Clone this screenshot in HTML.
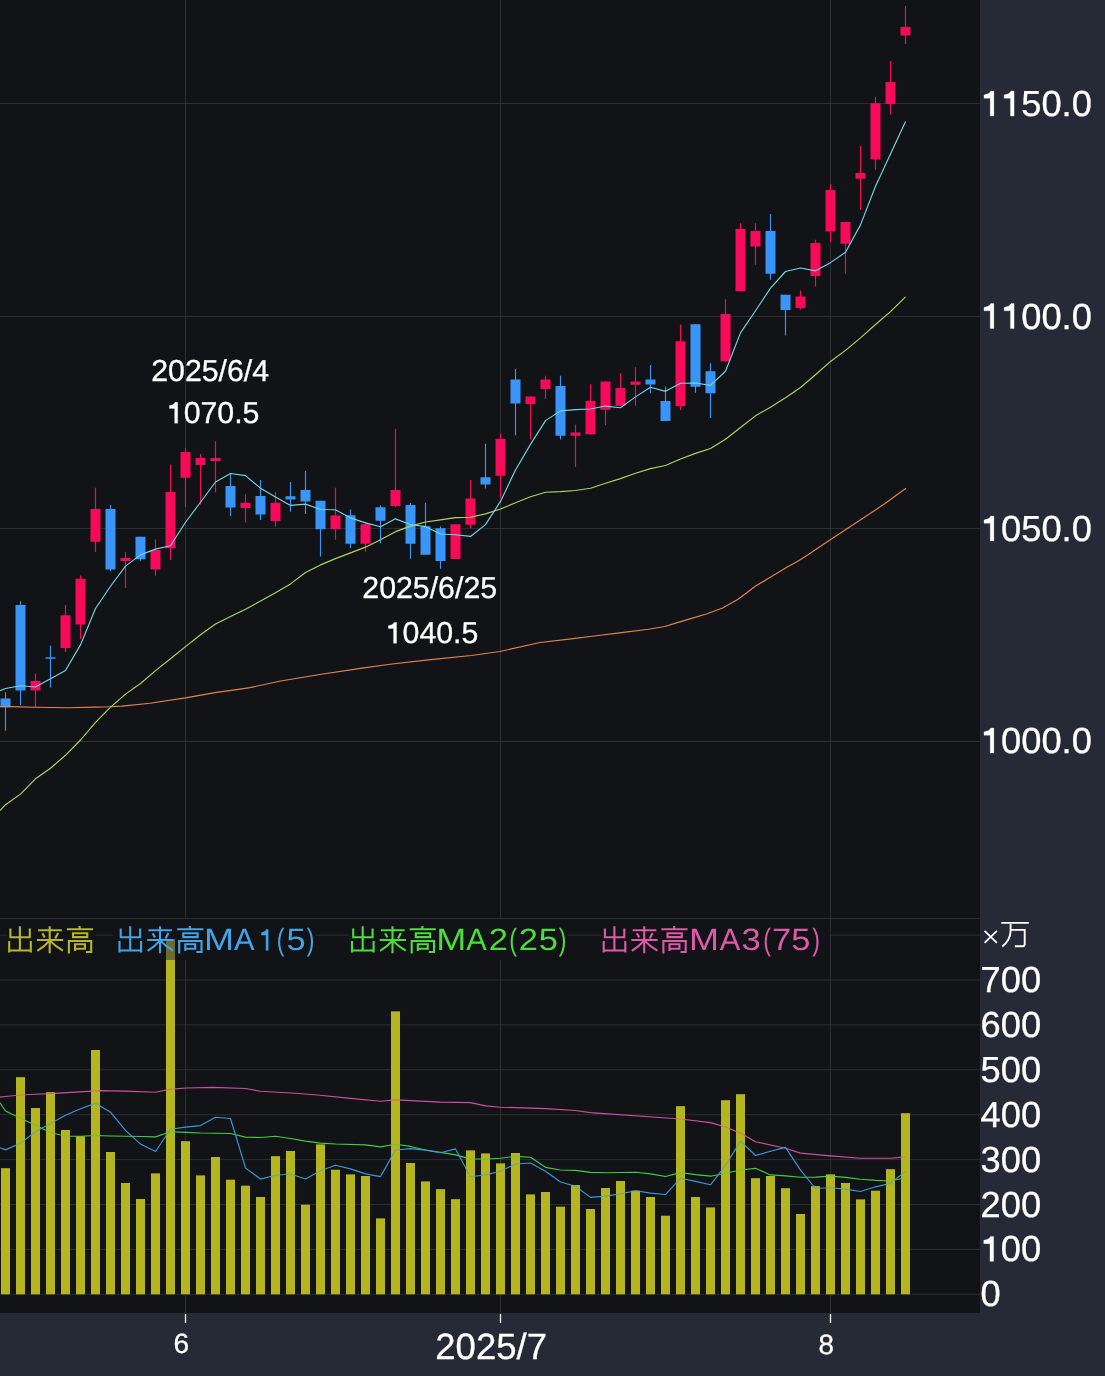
<!DOCTYPE html>
<html><head><meta charset="utf-8"><style>
html,body{margin:0;padding:0;background:#262a36;}
body{width:1105px;height:1376px;overflow:hidden;font-family:"Liberation Sans", sans-serif;}
svg{display:block;will-change:transform;}
text{text-rendering:geometricPrecision;}
</style></head><body>
<svg width="1105" height="1376" viewBox="0 0 1105 1376">
<rect x="0" y="0" width="1105" height="1376" fill="#262a36"/>
<rect x="0" y="0" width="980" height="1313" fill="#121317"/>
<path d="M0 103.5H980M0 316.5H980M0 528.5H980M0 741.5H980M0 918.5H980M0 1294.3H980M0 1249.4H980M0 1204.5H980M0 1159.6H980M0 1114.7H980M0 1069.8H980M0 1024.9H980M0 980H980M0 935.1H980M185.5 0V1313M500.5 0V1313M830.5 0V1313" stroke="#2c2e34" stroke-width="1" fill="none"/>
<rect x="7.3" y="919.2" width="88.1" height="40.5" fill="#121317"/>
<rect x="112.5" y="919.2" width="203" height="40.5" fill="#121317"/>
<rect x="348.7" y="919.2" width="218.8" height="40.5" fill="#121317"/>
<rect x="601.5" y="919.2" width="228" height="40.5" fill="#121317"/>
<rect x="166" y="939" width="9" height="20.7" fill="#6c6b2a"/>
<path d="M1 1168.2h9V1294.3h-9ZM16 1077.2h9V1294.3h-9ZM31 1108h9V1294.3h-9ZM46 1092.3h9V1294.3h-9ZM61 1130.1h9V1294.3h-9ZM76 1136.2h9V1294.3h-9ZM91 1050.1h9V1294.3h-9ZM106 1152h9V1294.3h-9ZM121 1183.1h9V1294.3h-9ZM136 1198.9h9V1294.3h-9ZM151 1173.4h9V1294.3h-9ZM166 959.7h9V1294.3h-9ZM181 1141.2h9V1294.3h-9ZM196 1175.6h9V1294.3h-9ZM211 1157.1h9V1294.3h-9ZM226 1179.8h9V1294.3h-9ZM241 1185.8h9V1294.3h-9ZM256 1197.1h9V1294.3h-9ZM271 1156.2h9V1294.3h-9ZM286 1151.1h9V1294.3h-9ZM301 1204.7h9V1294.3h-9ZM316 1144.4h9V1294.3h-9ZM331 1169.8h9V1294.3h-9ZM346 1174.4h9V1294.3h-9ZM361 1176h9V1294.3h-9ZM376 1218.5h9V1294.3h-9ZM391 1011.4h9V1294.3h-9ZM406 1162.9h9V1294.3h-9ZM421 1181.6h9V1294.3h-9ZM436 1189.3h9V1294.3h-9ZM451 1199.3h9V1294.3h-9ZM466 1150.6h9V1294.3h-9ZM481 1153.5h9V1294.3h-9ZM496 1163.5h9V1294.3h-9ZM511 1153.1h9V1294.3h-9ZM526 1194.4h9V1294.3h-9ZM541 1192h9V1294.3h-9ZM556 1206.7h9V1294.3h-9ZM571 1184.9h9V1294.3h-9ZM586 1208.9h9V1294.3h-9ZM601 1188h9V1294.3h-9ZM616 1181.1h9V1294.3h-9ZM631 1190.7h9V1294.3h-9ZM646 1197.1h9V1294.3h-9ZM661 1215.8h9V1294.3h-9ZM676 1106.3h9V1294.3h-9ZM691 1197.1h9V1294.3h-9ZM706 1207.6h9V1294.3h-9ZM721 1100.3h9V1294.3h-9ZM736 1094.2h9V1294.3h-9ZM751 1178.2h9V1294.3h-9ZM766 1175.9h9V1294.3h-9ZM781 1188.2h9V1294.3h-9ZM796 1213.9h9V1294.3h-9ZM811 1186.3h9V1294.3h-9ZM826 1174.4h9V1294.3h-9ZM841 1183.1h9V1294.3h-9ZM856 1199.6h9V1294.3h-9ZM871 1190.7h9V1294.3h-9ZM886 1169.2h9V1294.3h-9ZM901 1113.2h9V1294.3h-9Z" fill="#b5b51f"/>
<path d="M0 1097.2 L5.5 1096.5 L20.5 1095 L35.5 1094.3 L50.5 1093.6 L100 1090.6 L126 1091.1 L155.4 1092.2 L170.6 1089.1 L186.9 1088 L213 1087.4 L245.5 1088.5 L260.7 1091.3 L295.5 1093.2 L317.2 1095 L350.5 1098.4 L380.5 1101.2 L395.5 1099.9 L440.5 1102.1 L470.5 1102.6 L485.5 1105.9 L500.5 1107.2 L545.5 1108.6 L575.5 1110.5 L590.5 1112.6 L680.5 1119 L710.5 1122.6 L725.5 1127 L740.5 1133.1 L755.5 1141.7 L785.5 1148.3 L800.5 1153.1 L830.5 1155.9 L860.5 1158.2 L890.5 1158.2 L905.5 1156.9" stroke="#cf4f9a" stroke-width="1.15" fill="none" stroke-linejoin="round" opacity="1"/>
<path d="M0 1102.7 L5.5 1111 L20.5 1118.3 L35.5 1125.2 L50.5 1132.5 L65.5 1136.2 L80.5 1136.2 L95.5 1135.5 L110.5 1136 L125.5 1136.2 L140.5 1136.5 L155.5 1136.9 L170.5 1131.7 L185.5 1132.4 L200.5 1133 L215.5 1133.2 L230.5 1133.5 L245.5 1137.1 L260.5 1137.5 L275.5 1136.2 L290.5 1138.5 L305.5 1141.1 L320.5 1143.1 L335.5 1144 L365.5 1144.87 L380.5 1146.88 L395.5 1144.25 L410.5 1146.44 L425.5 1150.02 L440.5 1152.38 L455.5 1154.91 L470.5 1158.93 L485.5 1158.99 L500.5 1158.2 L515.5 1156.37 L530.5 1157.21 L545.5 1167.33 L560.5 1169.95 L575.5 1170.32 L590.5 1172.4 L605.5 1172.72 L620.5 1172.54 L635.5 1172.28 L650.5 1173.92 L665.5 1176.5 L680.5 1172.57 L695.5 1174.68 L710.5 1176.19 L725.5 1173.22 L740.5 1169.95 L755.5 1168.34 L770.5 1174.92 L785.5 1175.93 L800.5 1177.22 L815.5 1177.1 L830.5 1176.11 L845.5 1177.41 L860.5 1179.25 L875.5 1180.34 L890.5 1180.98 L905.5 1177.74" stroke="#3fcf3f" stroke-width="1.15" fill="none" stroke-linejoin="round" opacity="1"/>
<path d="M0 1147.7 L5.5 1149.9 L20.5 1143.3 L35.5 1131.7 L65.5 1115.16 L80.5 1108.76 L95.5 1103.34 L110.5 1112.14 L125.5 1130.3 L140.5 1144.06 L155.5 1151.5 L170.5 1129.28 L185.5 1127.12 L200.5 1125.62 L215.5 1117.26 L230.5 1118.54 L245.5 1167.9 L260.5 1179.08 L275.5 1175.2 L290.5 1174 L305.5 1178.98 L320.5 1170.7 L335.5 1165.24 L350.5 1168.88 L365.5 1173.86 L380.5 1176.62 L395.5 1150.02 L410.5 1148.64 L425.5 1150.08 L440.5 1152.74 L455.5 1148.9 L470.5 1176.74 L485.5 1174.86 L500.5 1171.24 L515.5 1164 L530.5 1163.02 L545.5 1171.3 L560.5 1181.94 L575.5 1186.22 L590.5 1197.38 L605.5 1196.1 L620.5 1193.92 L635.5 1190.72 L650.5 1193.16 L665.5 1194.54 L680.5 1178.2 L695.5 1181.4 L710.5 1184.78 L725.5 1165.42 L740.5 1141.1 L755.5 1155.48 L770.5 1151.24 L785.5 1147.36 L800.5 1170.08 L815.5 1188.5 L830.5 1187.74 L845.5 1189.18 L860.5 1191.46 L875.5 1186.82 L890.5 1183.4 L905.5 1171.16" stroke="#3b97dc" stroke-width="1.15" fill="none" stroke-linejoin="round" opacity="1"/>
<path d="M1 1168.2h9V1294.3h-9ZM16 1077.2h9V1294.3h-9ZM31 1108h9V1294.3h-9ZM46 1092.3h9V1294.3h-9ZM61 1130.1h9V1294.3h-9ZM76 1136.2h9V1294.3h-9ZM91 1050.1h9V1294.3h-9ZM106 1152h9V1294.3h-9ZM121 1183.1h9V1294.3h-9ZM136 1198.9h9V1294.3h-9ZM151 1173.4h9V1294.3h-9ZM166 959.7h9V1294.3h-9ZM181 1141.2h9V1294.3h-9ZM196 1175.6h9V1294.3h-9ZM211 1157.1h9V1294.3h-9ZM226 1179.8h9V1294.3h-9ZM241 1185.8h9V1294.3h-9ZM256 1197.1h9V1294.3h-9ZM271 1156.2h9V1294.3h-9ZM286 1151.1h9V1294.3h-9ZM301 1204.7h9V1294.3h-9ZM316 1144.4h9V1294.3h-9ZM331 1169.8h9V1294.3h-9ZM346 1174.4h9V1294.3h-9ZM361 1176h9V1294.3h-9ZM376 1218.5h9V1294.3h-9ZM391 1011.4h9V1294.3h-9ZM406 1162.9h9V1294.3h-9ZM421 1181.6h9V1294.3h-9ZM436 1189.3h9V1294.3h-9ZM451 1199.3h9V1294.3h-9ZM466 1150.6h9V1294.3h-9ZM481 1153.5h9V1294.3h-9ZM496 1163.5h9V1294.3h-9ZM511 1153.1h9V1294.3h-9ZM526 1194.4h9V1294.3h-9ZM541 1192h9V1294.3h-9ZM556 1206.7h9V1294.3h-9ZM571 1184.9h9V1294.3h-9ZM586 1208.9h9V1294.3h-9ZM601 1188h9V1294.3h-9ZM616 1181.1h9V1294.3h-9ZM631 1190.7h9V1294.3h-9ZM646 1197.1h9V1294.3h-9ZM661 1215.8h9V1294.3h-9ZM676 1106.3h9V1294.3h-9ZM691 1197.1h9V1294.3h-9ZM706 1207.6h9V1294.3h-9ZM721 1100.3h9V1294.3h-9ZM736 1094.2h9V1294.3h-9ZM751 1178.2h9V1294.3h-9ZM766 1175.9h9V1294.3h-9ZM781 1188.2h9V1294.3h-9ZM796 1213.9h9V1294.3h-9ZM811 1186.3h9V1294.3h-9ZM826 1174.4h9V1294.3h-9ZM841 1183.1h9V1294.3h-9ZM856 1199.6h9V1294.3h-9ZM871 1190.7h9V1294.3h-9ZM886 1169.2h9V1294.3h-9ZM901 1113.2h9V1294.3h-9Z" fill="#b5b51f" fill-opacity="0.45"/>
<path d="M35.5 673.4V707.2M65.5 605.1V651.9M80.5 575.4V639.2M95.5 487.8V552M125.5 552V588M155.5 539.5V575.7M170.5 464.8V560.1M185.5 448.1V507.2M200.5 454V504.5M215.5 441.2V492.3M245.5 494.3V522.5M275.5 492V526.6M335.5 487.8V539.8M365.5 522V551.7M395.5 428.8V506.9M455.5 524.2V558.9M470.5 480V528.2M500.5 433.6V498M530.5 396.4V439.6M545.5 375.8V399.1M575.5 424.4V467M590.5 384.2V434.8M605.5 381.5V424.9M620.5 373.3V405.7M635.5 367.2V405.8M680.5 324.6V410.1M725.5 299.3V362M740.5 223.2V291.3M755.5 223.2V264.8M800.5 290.6V309.6M815.5 239.7V286.6M830.5 184.3V241.8M845.5 222.1V273.7M860.5 146V209.9M875.5 97V169.7M890.5 61V114.8M905.5 6.1V43.9" stroke="#f70a5a" stroke-width="1.15" fill="none"/>
<path d="M30.5 681h10v9.6h-10ZM60.5 615.2h10v32.8h-10ZM75.5 578.7h10v45.8h-10ZM90.5 509h10v32.8h-10ZM120.5 558.1h10v2.9h-10ZM150.5 550h10v19.6h-10ZM165.5 492h10v56.3h-10ZM180.5 452h10v25.7h-10ZM195.5 458h10v7.1h-10ZM210.5 458h10v3h-10ZM240.5 502.7h10v5.2h-10ZM270.5 502.7h10v18.3h-10ZM330.5 515.6h10v13.6h-10ZM360.5 524.2h10v19.6h-10ZM390.5 489.9h10v16h-10ZM450.5 524.2h10v34.7h-10ZM465.5 498.5h10v26.3h-10ZM495.5 439h10v36.8h-10ZM525.5 396.4h10v7.5h-10ZM540.5 379.6h10v9.4h-10ZM570.5 432.5h10v3.3h-10ZM585.5 400.9h10v33.3h-10ZM600.5 381.5h10v28.2h-10ZM615.5 388h10v17.7h-10ZM630.5 381.5h10v3.3h-10ZM675.5 341.3h10v64.8h-10ZM720.5 314h10v47.3h-10ZM735.5 228.9h10v62.4h-10ZM750.5 230.9h10v15.6h-10ZM795.5 296.5h10v11.4h-10ZM810.5 243.1h10v33h-10ZM825.5 189.9h10v41.7h-10ZM840.5 222.1h10v21.7h-10ZM855.5 172.9h10v5.8h-10ZM870.5 103.2h10v56.2h-10ZM885.5 82.1h10v21.8h-10ZM900.5 26.9h10v8.7h-10Z" fill="#f70a5a"/>
<path d="M5.5 692.2V730.8M20.5 601.2V705M50.5 645.7V687.6M110.5 505V571M140.5 536.8V560.8M230.5 474V516M260.5 480V520.1M290.5 482.1V511.7M305.5 471V514M320.5 500.8V556.5M350.5 509.5V547.9M380.5 505.2V543.5M410.5 503.1V558.7M425.5 502.8V554.8M440.5 526.6V568.7M485.5 443.8V488.5M515.5 369V435.2M560.5 375.8V439.6M650.5 364.9V393.2M665.5 386.4V421M695.5 324.2V392.8M710.5 363.3V417.9M770.5 213.9V279.8M785.5 294.7V335.4" stroke="#3a95f8" stroke-width="1.15" fill="none"/>
<path d="M0.5 698.4h10v8.8h-10ZM15.5 604.9h10v85.7h-10ZM45.5 657.35h10v1.5h-10ZM105.5 509.1h10v60.4h-10ZM135.5 536.8h10v22.4h-10ZM225.5 485.9h10v21.7h-10ZM255.5 496.1h10v18.3h-10ZM285.5 496.3h10v3.2h-10ZM300.5 490h10v11.5h-10ZM315.5 500.8h10v28.4h-10ZM345.5 515.3h10v28.5h-10ZM375.5 507.3h10v13.4h-10ZM405.5 505.1h10v38.7h-10ZM420.5 526.2h10v28.6h-10ZM435.5 528.2h10v32.7h-10ZM480.5 477.3h10v7.2h-10ZM510.5 379.6h10v24h-10ZM555.5 386h10v49.8h-10ZM645.5 379.6h10v5h-10ZM660.5 401h10v20h-10ZM690.5 324.2h10v62.6h-10ZM705.5 371.2h10v22h-10ZM765.5 230.9h10v42.8h-10ZM780.5 294.7h10v15.3h-10Z" fill="#3a95f8"/>
<path d="M0 706.6 L10.2 706.6 L35.3 707.2 L67.9 707.8 L95 707.1 L110 706.7 L122 706.1 L150 703.3 L185.5 697.9 L215 692.6 L240 689.1 L250 687.6 L280.7 681 L321.4 674.2 L362.2 668.1 L390 664.2 L430.7 659.6 L471.4 655.5 L500 651.5 L540 642.5 L567.1 639.4 L594.3 636 L621.4 632.6 L648.6 629.2 L664.9 626.5 L675.7 623.1 L690 618.9 L706.3 614 L722.6 608 L738.9 598.8 L755.2 586.3 L771.5 576.5 L787.7 566.7 L798.6 560.7 L807.6 555 L830.6 539.6 L847.8 528.2 L865.2 516.8 L884.7 503.8 L905.9 488.2" stroke="#e0844e" stroke-width="1.15" fill="none" stroke-linejoin="round" opacity="1"/>
<path d="M0 810.6 L5.5 804.7 L20.5 794.1 L35.5 778.8 L50.5 768.2 L65.5 755.3 L80.5 740 L95.5 722.4 L110.5 707.1 L125.5 694.1 L140.5 683.5 L155.5 670.6 L170.5 658.8 L185.5 646.6 L200.5 634.8 L215.5 624 L230.5 616.5 L245.5 609.2 L260.5 601.1 L275.5 592.8 L290.5 583.9 L305.5 572.5 L320.5 564.9 L335.5 558.6 L365.5 547.14 L380.5 539.68 L395.5 531.65 L410.5 526.16 L425.5 522 L440.5 519.83 L455.5 517.65 L470.5 517.23 L485.5 513.83 L500.5 509.07 L515.5 502.84 L530.5 496.7 L545.5 492.2 L560.5 491.56 L575.5 490.54 L590.5 488.25 L605.5 483.21 L620.5 478.62 L635.5 473.3 L650.5 468.58 L665.5 465.44 L680.5 459.03 L695.5 453.34 L710.5 448.44 L725.5 439.25 L740.5 427.44 L755.5 415.84 L770.5 407.2 L785.5 397.84 L800.5 387.51 L815.5 374.8 L830.5 361.43 L845.5 350.37 L860.5 337.91 L875.5 324.48 L890.5 311.62 L905.5 296.84" stroke="#acd660" stroke-width="1.15" fill="none" stroke-linejoin="round" opacity="1"/>
<path d="M0 690.6 L5.5 688.5 L20.5 685.8 L35.5 687 L65.5 670.56 L80.5 644.86 L95.5 608.54 L110.5 586.24 L125.5 566.1 L140.5 554.9 L155.5 549.16 L170.5 545.76 L185.5 522.26 L200.5 502.24 L215.5 482 L230.5 473.52 L245.5 475.66 L260.5 488.14 L275.5 497.08 L290.5 505.38 L305.5 504.16 L320.5 509.46 L335.5 509.7 L350.5 517.92 L365.5 522.86 L380.5 526.7 L395.5 518.84 L410.5 524.48 L425.5 526.68 L440.5 534.02 L455.5 534.72 L470.5 536.44 L485.5 524.58 L500.5 501.42 L515.5 469.96 L530.5 444.4 L545.5 420.62 L560.5 410.88 L575.5 409.58 L590.5 409.04 L605.5 406.06 L620.5 407.74 L635.5 396.88 L650.5 387.3 L665.5 391.32 L680.5 383.28 L695.5 383.04 L710.5 385.38 L725.5 371.26 L740.5 332.84 L755.5 310.76 L770.5 288.14 L785.5 271.5 L800.5 268 L815.5 270.84 L830.5 262.64 L845.5 252.32 L860.5 224.9 L875.5 186.24 L890.5 154.04 L905.5 121.44" stroke="#72d5e2" stroke-width="1.15" fill="none" stroke-linejoin="round" opacity="1"/>
<path transform="translate(8.1 926)" d="M2.3 2.6V11.2H21.7V2.6M11.8 0.2V25.5M1.1 15V26.6M22.7 15V26.6M1.1 24.5H22.7M30 4.3H53.7M34.2 7.3L36.6 11.4M50 6.9L47.1 12.4M28.8 14H55.1M41.6 0.3V27.2M41.2 14.9Q36.5 20.6 29.2 24.9M42.1 14.9Q47.5 20.6 54.8 24.6M71.5 0V2.5M58.8 3.3H84.9M64.9 7.2H79.2V11.1H64.9ZM60.8 27.6V15H83.1V26H77.9M66.9 25V18.2H76.8V22.8H66.9" stroke="#b7b52c" stroke-width="2.1" fill="none"/>
<path transform="translate(118.4 926)" d="M2.3 2.6V11.2H21.7V2.6M11.8 0.2V25.5M1.1 15V26.6M22.7 15V26.6M1.1 24.5H22.7M30 4.3H53.7M34.2 7.3L36.6 11.4M50 6.9L47.1 12.4M28.8 14H55.1M41.6 0.3V27.2M41.2 14.9Q36.5 20.6 29.2 24.9M42.1 14.9Q47.5 20.6 54.8 24.6M71.5 0V2.5M58.8 3.3H84.9M64.9 7.2H79.2V11.1H64.9ZM60.8 27.6V15H83.1V26H77.9M66.9 25V18.2H76.8V22.8H66.9" stroke="#44a3e6" stroke-width="2.1" fill="none"/>
<g fill="#44a3e6"><text transform="translate(203.94 950.4) scale(1.17 1)" x="0" y="0" font-family='"Liberation Sans", sans-serif' font-size="30.8">M</text><text transform="translate(233.94 950.4) scale(1.0 1)" x="0" y="0" font-family='"Liberation Sans", sans-serif' font-size="30.8">A</text><path transform="translate(259.02 950.4) scale(0.01278 -0.01504)" d="M735 0V1409H562Q505 1292 405 1250Q300 1212 178 1190V1000H530V0Z"/><text transform="translate(276.77 950.4) scale(0.75 1)" x="0" y="0" font-family='"Liberation Sans", sans-serif' font-size="30.8">(</text><text transform="translate(286.62 950.4) scale(1.12 1)" x="0" y="0" font-family='"Liberation Sans", sans-serif' font-size="30.8">5</text><text transform="translate(306.86 950.4) scale(0.75 1)" x="0" y="0" font-family='"Liberation Sans", sans-serif' font-size="30.8">)</text></g>
<path transform="translate(350.9 926)" d="M2.3 2.6V11.2H21.7V2.6M11.8 0.2V25.5M1.1 15V26.6M22.7 15V26.6M1.1 24.5H22.7M30 4.3H53.7M34.2 7.3L36.6 11.4M50 6.9L47.1 12.4M28.8 14H55.1M41.6 0.3V27.2M41.2 14.9Q36.5 20.6 29.2 24.9M42.1 14.9Q47.5 20.6 54.8 24.6M71.5 0V2.5M58.8 3.3H84.9M64.9 7.2H79.2V11.1H64.9ZM60.8 27.6V15H83.1V26H77.9M66.9 25V18.2H76.8V22.8H66.9" stroke="#4ddc3e" stroke-width="2.1" fill="none"/>
<g fill="#4ddc3e"><text transform="translate(436.14 950.4) scale(1.17 1)" x="0" y="0" font-family='"Liberation Sans", sans-serif' font-size="30.8">M</text><text transform="translate(466.14 950.4) scale(1.0 1)" x="0" y="0" font-family='"Liberation Sans", sans-serif' font-size="30.8">A</text><text transform="translate(488.87 950.4) scale(1.12 1)" x="0" y="0" font-family='"Liberation Sans", sans-serif' font-size="30.8">2</text><text transform="translate(509.27 950.4) scale(0.75 1)" x="0" y="0" font-family='"Liberation Sans", sans-serif' font-size="30.8">(</text><text transform="translate(518.77 950.4) scale(1.12 1)" x="0" y="0" font-family='"Liberation Sans", sans-serif' font-size="30.8">2</text><text transform="translate(538.72 950.4) scale(1.12 1)" x="0" y="0" font-family='"Liberation Sans", sans-serif' font-size="30.8">5</text><text transform="translate(558.86 950.4) scale(0.75 1)" x="0" y="0" font-family='"Liberation Sans", sans-serif' font-size="30.8">)</text></g>
<path transform="translate(602.6 926)" d="M2.3 2.6V11.2H21.7V2.6M11.8 0.2V25.5M1.1 15V26.6M22.7 15V26.6M1.1 24.5H22.7M30 4.3H53.7M34.2 7.3L36.6 11.4M50 6.9L47.1 12.4M28.8 14H55.1M41.6 0.3V27.2M41.2 14.9Q36.5 20.6 29.2 24.9M42.1 14.9Q47.5 20.6 54.8 24.6M71.5 0V2.5M58.8 3.3H84.9M64.9 7.2H79.2V11.1H64.9ZM60.8 27.6V15H83.1V26H77.9M66.9 25V18.2H76.8V22.8H66.9" stroke="#dc5aa8" stroke-width="2.1" fill="none"/>
<g fill="#dc5aa8"><text transform="translate(688.94 950.4) scale(1.17 1)" x="0" y="0" font-family='"Liberation Sans", sans-serif' font-size="30.8">M</text><text transform="translate(719.74 950.4) scale(1.0 1)" x="0" y="0" font-family='"Liberation Sans", sans-serif' font-size="30.8">A</text><text transform="translate(741.59 950.4) scale(1.12 1)" x="0" y="0" font-family='"Liberation Sans", sans-serif' font-size="30.8">3</text><text transform="translate(763.37 950.4) scale(0.75 1)" x="0" y="0" font-family='"Liberation Sans", sans-serif' font-size="30.8">(</text><text transform="translate(771.93 950.4) scale(1.12 1)" x="0" y="0" font-family='"Liberation Sans", sans-serif' font-size="30.8">7</text><text transform="translate(791.32 950.4) scale(1.12 1)" x="0" y="0" font-family='"Liberation Sans", sans-serif' font-size="30.8">5</text><text transform="translate(812.16 950.4) scale(0.75 1)" x="0" y="0" font-family='"Liberation Sans", sans-serif' font-size="30.8">)</text></g>
<g transform="translate(980.85 116)" fill="#ffffff" stroke="#ffffff" stroke-width="0.3"><text x="40.38 60.56 80.75 90.84" y="0" font-family='"Liberation Sans", sans-serif' font-size="36.3">50.0</text><path transform="translate(0 0) scale(0.01772 -0.01772)" vector-effect="non-scaling-stroke" d="M735 0V1409H562Q505 1292 405 1250Q300 1212 178 1190V1000H530V0Z"/><path transform="translate(20.19 0) scale(0.01772 -0.01772)" vector-effect="non-scaling-stroke" d="M735 0V1409H562Q505 1292 405 1250Q300 1212 178 1190V1000H530V0Z"/></g>
<g transform="translate(980.85 328.5)" fill="#ffffff" stroke="#ffffff" stroke-width="0.3"><text x="40.38 60.56 80.75 90.84" y="0" font-family='"Liberation Sans", sans-serif' font-size="36.3">00.0</text><path transform="translate(0 0) scale(0.01772 -0.01772)" vector-effect="non-scaling-stroke" d="M735 0V1409H562Q505 1292 405 1250Q300 1212 178 1190V1000H530V0Z"/><path transform="translate(20.19 0) scale(0.01772 -0.01772)" vector-effect="non-scaling-stroke" d="M735 0V1409H562Q505 1292 405 1250Q300 1212 178 1190V1000H530V0Z"/></g>
<g transform="translate(980.85 541)" fill="#ffffff" stroke="#ffffff" stroke-width="0.3"><text x="20.19 40.38 60.56 80.75 90.84" y="0" font-family='"Liberation Sans", sans-serif' font-size="36.3">050.0</text><path transform="translate(0 0) scale(0.01772 -0.01772)" vector-effect="non-scaling-stroke" d="M735 0V1409H562Q505 1292 405 1250Q300 1212 178 1190V1000H530V0Z"/></g>
<g transform="translate(980.85 753)" fill="#ffffff" stroke="#ffffff" stroke-width="0.3"><text x="20.19 40.38 60.56 80.75 90.84" y="0" font-family='"Liberation Sans", sans-serif' font-size="36.3">000.0</text><path transform="translate(0 0) scale(0.01772 -0.01772)" vector-effect="non-scaling-stroke" d="M735 0V1409H562Q505 1292 405 1250Q300 1212 178 1190V1000H530V0Z"/></g>
<g transform="translate(980.6 1306.2)" fill="#ffffff" stroke="#ffffff" stroke-width="0.3"><text x="0" y="0" font-family='"Liberation Sans", sans-serif' font-size="36.3">0</text></g>
<g transform="translate(980.6 1261.35)" fill="#ffffff" stroke="#ffffff" stroke-width="0.3"><text x="20.19 40.38" y="0" font-family='"Liberation Sans", sans-serif' font-size="36.3">00</text><path transform="translate(0 0) scale(0.01772 -0.01772)" vector-effect="non-scaling-stroke" d="M735 0V1409H562Q505 1292 405 1250Q300 1212 178 1190V1000H530V0Z"/></g>
<g transform="translate(980.6 1216.5)" fill="#ffffff" stroke="#ffffff" stroke-width="0.3"><text x="0 20.19 40.38" y="0" font-family='"Liberation Sans", sans-serif' font-size="36.3">200</text></g>
<g transform="translate(980.6 1171.65)" fill="#ffffff" stroke="#ffffff" stroke-width="0.3"><text x="0 20.19 40.38" y="0" font-family='"Liberation Sans", sans-serif' font-size="36.3">300</text></g>
<g transform="translate(980.6 1126.8)" fill="#ffffff" stroke="#ffffff" stroke-width="0.3"><text x="0 20.19 40.38" y="0" font-family='"Liberation Sans", sans-serif' font-size="36.3">400</text></g>
<g transform="translate(980.6 1081.95)" fill="#ffffff" stroke="#ffffff" stroke-width="0.3"><text x="0 20.19 40.38" y="0" font-family='"Liberation Sans", sans-serif' font-size="36.3">500</text></g>
<g transform="translate(980.6 1037.1)" fill="#ffffff" stroke="#ffffff" stroke-width="0.3"><text x="0 20.19 40.38" y="0" font-family='"Liberation Sans", sans-serif' font-size="36.3">600</text></g>
<g transform="translate(980.6 992.25)" fill="#ffffff" stroke="#ffffff" stroke-width="0.3"><text x="0 20.19 40.38" y="0" font-family='"Liberation Sans", sans-serif' font-size="36.3">700</text></g>
<path d="M984.6 930.9L996.9 942.8M996.9 930.9L984.6 942.8" stroke="#ffffff" stroke-width="1.8" fill="none"/>
<path d="M1001.3 922.9H1028.8M1010.6 924V931.3Q1010.2 940.5 1002.2 946.6M1010.6 929.9H1024.7V944.2Q1024.7 946.3 1022.6 946.3H1014.9" stroke="#ffffff" stroke-width="1.9" fill="none"/>
<g transform="translate(151.2 381)" fill="#ffffff" stroke="#ffffff" stroke-width="0.3"><text x="0 16.85 33.7 50.55 67.41 75.82 92.68 101.09" y="0" font-family='"Liberation Sans", sans-serif' font-size="30.3">2025/6/4</text></g>
<g transform="translate(166.8 423.2)" fill="#ffffff" stroke="#ffffff" stroke-width="0.3"><text x="16.85 33.7 50.55 67.41 75.82" y="0" font-family='"Liberation Sans", sans-serif' font-size="30.3">070.5</text><path transform="translate(0 0) scale(0.01479 -0.01479)" vector-effect="non-scaling-stroke" d="M735 0V1409H562Q505 1292 405 1250Q300 1212 178 1190V1000H530V0Z"/></g>
<g transform="translate(362.3 598)" fill="#ffffff" stroke="#ffffff" stroke-width="0.3"><text x="0 16.85 33.7 50.55 67.41 75.82 92.68 101.09 117.95" y="0" font-family='"Liberation Sans", sans-serif' font-size="30.3">2025/6/25</text></g>
<g transform="translate(385.7 643.3)" fill="#ffffff" stroke="#ffffff" stroke-width="0.3"><text x="16.85 33.7 50.55 67.41 75.82" y="0" font-family='"Liberation Sans", sans-serif' font-size="30.3">040.5</text><path transform="translate(0 0) scale(0.01479 -0.01479)" vector-effect="non-scaling-stroke" d="M735 0V1409H562Q505 1292 405 1250Q300 1212 178 1190V1000H530V0Z"/></g>
<path d="M185.5 1314V1323M500.5 1314V1323M830.5 1314V1323" stroke="#ffffff" stroke-width="1.3"/>
<g transform="translate(173.6 1353.4)" fill="#ffffff" stroke="#ffffff" stroke-width="0.3"><text x="0" y="0" font-family='"Liberation Sans", sans-serif' font-size="28">6</text></g>
<g transform="translate(435.3 1359.2)" fill="#ffffff" stroke="#ffffff" stroke-width="0.3"><text x="0 20.3 40.6 60.9 81.2 91.34" y="0" font-family='"Liberation Sans", sans-serif' font-size="36.5">2025/7</text></g>
<g transform="translate(818.6 1353.5)" fill="#ffffff" stroke="#ffffff" stroke-width="0.3"><text x="0" y="0" font-family='"Liberation Sans", sans-serif' font-size="27.8">8</text></g>
</svg>
</body></html>
